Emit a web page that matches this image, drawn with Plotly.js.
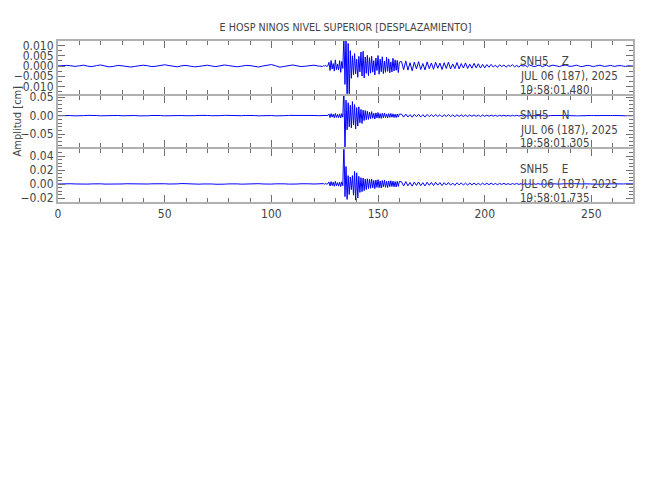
<!DOCTYPE html>
<html>
<head>
<meta charset="utf-8">
<script src="https://cdn.plot.ly/plotly-3.0.1.min.js"></script>
<style>html,body{margin:0;padding:0;background:#fff;}#chart{width:650px;height:500px;}</style>
</head>
<body>
<div id="chart"></div>
<script>
// Sampling segments (start time s, step s) shared by the three components
const segStart = [0, 124.5, 161];
const segStep  = [2, 0.5, 1];

// Z component (cm)
const zA = [0.0000,0.0002,0.0003,0.0001,-0.0002,0.0001,0.0004,-0.0001,-0.0003,0.0002,0.0005,0.0000,-0.0004,-0.0002,0.0003,0.0001,-0.0003,-0.0005,-0.0002,0.0002,0.0004,0.0001,-0.0003,-0.0001,0.0003,0.0006,0.0002,-0.0002,-0.0004,0.0001,0.0003,-0.0001,-0.0004,-0.0002,0.0002,0.0004,0.0000,-0.0003,0.0001,0.0005,0.0002,-0.0002,-0.0004,-0.0001,0.0003,0.0002,-0.0002,-0.0005,0.0000,0.0004,0.0007,0.0001,-0.0006,-0.0002,0.0003,0.0005,0.0001,-0.0003,-0.0001,0.0002,0.0004,0.0000,-0.0002];
const zB = [0.0002,-0.0001,0.0003,-0.0002,0.0001,
  0.0018,-0.0022,0.0027,-0.0015,0.0012,-0.0025,0.0030,-0.0018,0.0009,-0.0020,0.0026,-0.0031,0.0022,-0.0012,
  0.0150,-0.0090,0.0160,-0.0180,0.0110,-0.0140,0.0075,-0.0060,
  0.0050,-0.0042,0.0061,-0.0038,0.0033,-0.0055,0.0047,-0.0029,0.0068,-0.0049,0.0072,-0.0058,0.0044,-0.0036,0.0052,-0.0047,
  0.0041,-0.0035,0.0048,-0.0030,0.0026,-0.0044,0.0039,-0.0022,0.0051,-0.0040,0.0033,-0.0028,0.0045,-0.0037,0.0024,-0.0031,0.0042,-0.0026,0.0035,-0.0033,0.0020,-0.0029,0.0038,-0.0024,0.0030,-0.0021,0.0027,-0.0032,0.0019];
const zC = [0.0022,-0.0018,0.0025,-0.0020,0.0016,-0.0023,0.0019,-0.0014,0.0021,-0.0017,0.0012,-0.0019,0.0020,-0.0013,0.0015,-0.0016,0.0018,-0.0011,0.0014,-0.0017,0.0016,-0.0012,0.0019,-0.0015,0.0010,-0.0013,0.0017,-0.0014,0.0012,-0.0010,0.0015,-0.0012,0.0009,-0.0011,0.0013,-0.0009,0.0011,-0.0010,0.0008,-0.0009,
  0.0007,-0.0006,0.0008,-0.0005,0.0004,-0.0007,0.0006,-0.0003,0.0005,-0.0006,0.0004,-0.0002,0.0006,-0.0004,0.0003,-0.0005,0.0004,-0.0001,0.0003,-0.0004,0.0005,0.0001,-0.0003,-0.0001,0.0004,0.0002,-0.0003,0.0001,0.0004,-0.0002,
  0.0001,0.0004,0.0002,-0.0002,-0.0003,0.0001,0.0003,0.0005,0.0001,-0.0002,-0.0001,0.0002,0.0004,0.0001,-0.0003,-0.0002,0.0001,0.0003,0.0002,-0.0001,-0.0003,0.0000,0.0003,0.0004,0.0001,-0.0002,-0.0001,0.0002,0.0003,0.0000,-0.0002,0.0001,0.0003,0.0002,-0.0001,-0.0002,0.0001,0.0002,0.0000,-0.0001];

// N component (cm)
const nA = [0.0000,0.0005,0.0010,0.0003,-0.0004,-0.0008,0.0002,0.0009,0.0012,0.0004,-0.0003,0.0001,0.0008,0.0014,0.0006,-0.0002,0.0003,0.0010,0.0005,-0.0004,-0.0009,-0.0002,0.0006,0.0011,0.0004,-0.0003,0.0002,0.0009,0.0013,0.0005,-0.0001,-0.0006,0.0001,0.0008,0.0015,0.0007,0.0000,-0.0005,0.0002,0.0010,0.0006,-0.0002,-0.0007,0.0000,0.0007,0.0012,0.0004,-0.0003,0.0003,0.0009,0.0005,-0.0004,-0.0008,0.0001,0.0008,0.0011,0.0003,-0.0002,0.0004,0.0010,0.0006,0.0001,0.0005];
const nB = [0.0008,-0.0006,0.0010,-0.0004,0.0007,
  0.0045,-0.0050,0.0058,-0.0038,0.0042,-0.0055,0.0060,-0.0047,0.0035,-0.0052,0.0049,-0.0061,0.0056,-0.0040,
  0.0800,-0.1000,0.0420,-0.0380,0.0350,-0.0300,0.0280,-0.0330,
  0.0380,-0.0250,0.0300,-0.0360,0.0220,-0.0280,0.0240,-0.0190,0.0170,-0.0210,0.0150,-0.0130,0.0140,-0.0110,0.0120,-0.0100,
  0.0095,-0.0080,0.0110,-0.0070,0.0065,-0.0090,0.0075,-0.0060,0.0085,-0.0068,0.0058,-0.0072,0.0064,-0.0055,0.0070,-0.0050,0.0048,-0.0062,0.0055,-0.0045,0.0060,-0.0042,0.0050,-0.0048,0.0040,-0.0052,0.0046,-0.0038,0.0044];
const nC = [0.0042,-0.0038,0.0045,-0.0035,0.0030,-0.0040,0.0036,-0.0028,0.0039,-0.0033,0.0027,-0.0036,0.0034,-0.0025,0.0031,-0.0029,0.0033,-0.0022,0.0028,-0.0030,0.0026,-0.0021,0.0030,-0.0024,0.0020,-0.0027,0.0025,-0.0019,0.0023,-0.0022,0.0018,-0.0024,0.0021,-0.0017,0.0020,-0.0018,0.0016,-0.0020,0.0017,-0.0015,
  0.0016,-0.0013,0.0015,-0.0012,0.0011,-0.0014,0.0013,-0.0010,0.0012,-0.0011,0.0009,-0.0012,0.0011,-0.0008,0.0010,-0.0009,0.0008,-0.0010,0.0009,-0.0007,0.0008,-0.0008,0.0006,-0.0007,0.0008,-0.0005,0.0006,-0.0006,0.0005,-0.0004,
  0.0003,0.0006,0.0002,-0.0003,-0.0001,0.0004,0.0007,0.0003,-0.0002,0.0001,0.0005,0.0002,-0.0003,-0.0004,0.0001,0.0005,0.0003,-0.0001,0.0002,0.0006,0.0004,-0.0001,-0.0003,0.0002,0.0005,0.0001,-0.0002,0.0000,0.0004,0.0006,0.0002,-0.0002,0.0001,0.0004,0.0003,-0.0001,0.0000,0.0003,0.0002,0.0001];

// E component (cm)
const eA = [0.0000,0.0003,0.0006,0.0004,0.0001,-0.0002,-0.0004,-0.0001,0.0002,0.0005,0.0003,-0.0001,-0.0003,-0.0005,-0.0002,0.0001,0.0004,0.0002,-0.0001,-0.0004,-0.0003,0.0000,0.0003,0.0006,0.0009,0.0004,0.0000,-0.0003,0.0002,0.0007,0.0003,-0.0002,-0.0005,-0.0002,0.0001,0.0004,0.0001,-0.0003,-0.0006,-0.0002,0.0002,0.0005,0.0002,-0.0002,0.0001,0.0006,0.0010,0.0005,0.0001,-0.0003,-0.0001,0.0003,0.0006,0.0003,-0.0001,-0.0004,0.0000,0.0004,0.0007,0.0003,0.0000,0.0005,0.0009];
const eB = [0.0006,-0.0004,0.0008,-0.0002,0.0005,
  0.0030,-0.0028,0.0035,-0.0022,0.0026,-0.0032,0.0038,-0.0025,0.0020,-0.0030,0.0027,-0.0035,0.0031,-0.0024,
  0.0600,-0.0180,0.0250,-0.0220,0.0120,-0.0150,0.0100,-0.0080,
  0.0120,-0.0160,0.0180,-0.0230,0.0160,-0.0200,0.0110,-0.0120,0.0090,-0.0110,0.0085,-0.0095,0.0070,-0.0080,0.0075,-0.0065,
  0.0068,-0.0060,0.0072,-0.0055,0.0050,-0.0065,0.0058,-0.0048,0.0062,-0.0052,0.0045,-0.0057,0.0050,-0.0042,0.0055,-0.0046,0.0040,-0.0050,0.0044,-0.0038,0.0047,-0.0036,0.0041,-0.0040,0.0035,-0.0042,0.0038,-0.0033,0.0036];
const eC = [0.0032,-0.0028,0.0034,-0.0025,0.0022,-0.0030,0.0027,-0.0020,0.0029,-0.0024,0.0019,-0.0027,0.0025,-0.0018,0.0023,-0.0021,0.0024,-0.0016,0.0020,-0.0022,0.0019,-0.0015,0.0022,-0.0017,0.0014,-0.0019,0.0018,-0.0013,0.0016,-0.0015,0.0013,-0.0016,0.0015,-0.0012,0.0014,-0.0012,0.0011,-0.0013,0.0012,-0.0010,
  0.0011,-0.0009,0.0012,-0.0008,0.0008,-0.0010,0.0009,-0.0006,0.0010,-0.0007,0.0006,-0.0008,0.0007,-0.0005,0.0008,-0.0006,0.0005,-0.0007,0.0006,-0.0004,0.0005,-0.0005,0.0004,-0.0004,0.0006,-0.0003,0.0004,-0.0004,0.0003,-0.0002,
  0.0002,0.0005,0.0003,-0.0001,-0.0003,0.0001,0.0004,0.0002,-0.0002,-0.0001,0.0003,0.0005,0.0002,-0.0002,-0.0003,0.0000,0.0003,0.0001,-0.0002,0.0001,0.0004,0.0002,-0.0001,-0.0003,0.0000,0.0002,0.0004,0.0001,-0.0002,0.0000,0.0003,0.0002,-0.0001,-0.0002,0.0001,0.0003,0.0001,-0.0001,0.0000,0.0002];

const stationLabels = ['SNH5\u00a0\u00a0\u00a0\u00a0Z','SNH5\u00a0\u00a0\u00a0\u00a0N','SNH5\u00a0\u00a0\u00a0\u00a0E'];
const dateLabel = 'JUL 06 (187), 2025';
const timeLabels = ['19:58:01.480','19:58:01.305','19:58:01.735'];
const xTickVals = [0,50,100,150,200,250];

function build(segs){
  const t=[], v=[];
  segs.forEach((arr,k)=>{ arr.forEach((val,i)=>{ t.push(segStart[k]+segStep[k]*i); v.push(val); }); });
  return {t,v};
}
const Z = build([zA,zB,zC]), N = build([nA,nB,nC]), E = build([eA,eB,eC]);

const FONT = 'DejaVu Sans Condensed, DejaVu Sans, sans-serif';
const TXT = '#444';
const lineStyle = {color:'#0000ff', width:1};
const traces = [
  {x:Z.t, y:Z.v, xaxis:'x3', yaxis:'y3', type:'scatter', mode:'lines', line:lineStyle, hoverinfo:'skip'},
  {x:N.t, y:N.v, xaxis:'x2', yaxis:'y2', type:'scatter', mode:'lines', line:lineStyle, hoverinfo:'skip'},
  {x:E.t, y:E.v, xaxis:'x',  yaxis:'y',  type:'scatter', mode:'lines', line:lineStyle, hoverinfo:'skip'}
];

const axCommon = {
  showline:true, linecolor:'#b0b0b0', linewidth:2, mirror:'ticks',
  ticks:'inside', ticklen:7, tickwidth:1, tickcolor:'#707070',
  showgrid:false, zeroline:false, fixedrange:true,
  tickfont:{family:FONT, size:12, color:TXT}
};
const xBase = Object.assign({}, axCommon, {
  range:[0,269.5], tickmode:'array', tickvals:xTickVals,
  minor:{dtick:10, tick0:0, ticklen:4, tickcolor:'#707070', ticks:'inside', showgrid:false}
});
function yMinor(d){ return {dtick:d, ticklen:4, tickcolor:'#707070', ticks:'inside', showgrid:false}; }

const layout = {
  width:650, height:500,
  margin:{l:58, r:17, t:41, b:298, pad:0},
  paper_bgcolor:'#fff', plot_bgcolor:'#fff',
  showlegend:false,
  font:{family:FONT, color:TXT, size:12},
  title:{text:'E HOSP NINOS NIVEL SUPERIOR [DESPLAZAMIENTO]', xref:'paper', x:0.5, xanchor:'center',
         yref:'container', y:0.946, yanchor:'middle', font:{family:FONT, size:10.7, color:TXT}},
  xaxis: Object.assign({}, xBase, {anchor:'y'}),
  xaxis2: Object.assign({}, xBase, {anchor:'y2', matches:'x', showticklabels:false}),
  xaxis3: Object.assign({}, xBase, {anchor:'y3', matches:'x', showticklabels:false}),
  yaxis: Object.assign({}, axCommon, {domain:[0,0.3271], anchor:'x', range:[-0.0257,0.0496], dtick:0.02, tick0:0, tickformat:'.2f', minor:yMinor(0.005)}),
  yaxis2: Object.assign({}, axCommon, {domain:[0.3395,0.6605], anchor:'x2', range:[-0.0854,0.0541], dtick:0.05, tick0:0, tickformat:'.2f', minor:yMinor(0.01)}),
  yaxis3: Object.assign({}, axCommon, {domain:[0.6729,1], anchor:'x3', range:[-0.0135,0.0122], dtick:0.005, tick0:0, tickformat:'.3f', minor:yMinor(0.0025)}),
  annotations: []
};

const annY = [[0.874,0.781,0.694],[0.540,0.447,0.365],[0.205,0.110,0.027]];
for(let p=0;p<3;p++){
  const texts=[stationLabels[p], dateLabel, timeLabels[p]];
  for(let r=0;r<3;r++){
    layout.annotations.push({xref:'paper', yref:'paper', x:0.8, y:annY[p][r], xanchor:'left', yanchor:'middle',
      text:texts[r], showarrow:false, font:{family:FONT, size:11.5, color:TXT}});
  }
}
layout.annotations.push({xref:'paper', yref:'paper', x:0, xshift:-41, y:0.5, textangle:-90, xanchor:'center', yanchor:'middle',
  text:'Amplitud [cm]', showarrow:false, font:{family:FONT, size:11, color:TXT}});

Plotly.newPlot('chart', traces, layout, {displayModeBar:false, staticPlot:true});
</script>
</body>
</html>
